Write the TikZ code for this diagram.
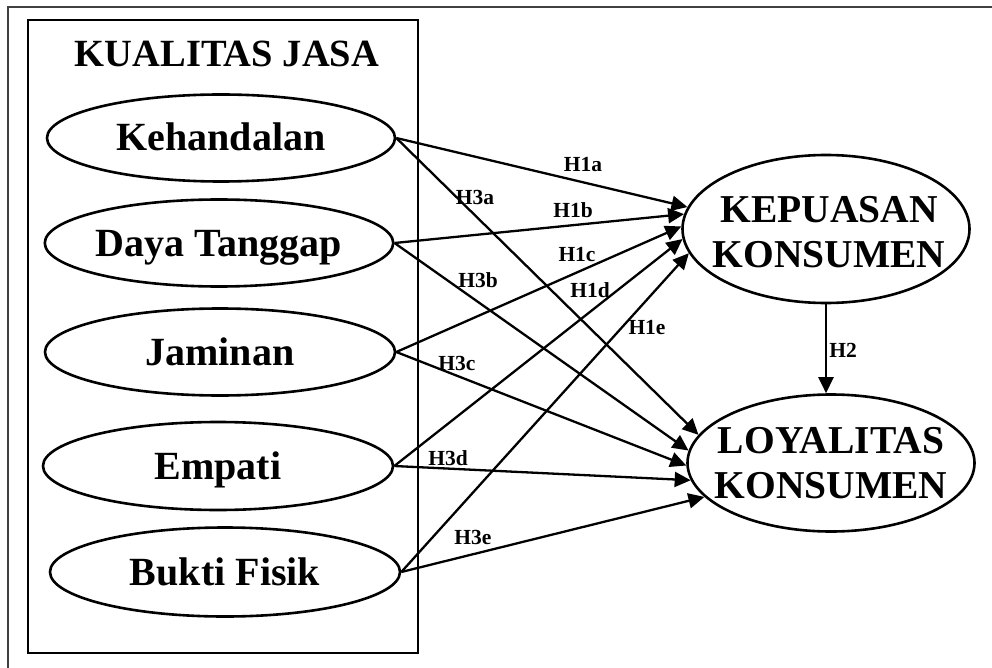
\documentclass[tikz,border=0pt]{standalone}
\usepackage{fontspec}
\setmainfont{Liberation Serif}[BoldFont={Liberation Serif Bold}]
\newfontfamily\tbold{Liberation Serif Bold}
\usetikzlibrary{shapes.geometric,arrows.meta}
\begin{document}
\begin{tikzpicture}[x=1pt,y=-1pt,
  ell/.style={ellipse,draw,line width=2.6pt,inner sep=0pt,font=\tbold\fontsize{40}{45}\selectfont,text height=26pt,text depth=0pt},
  bigtext/.style={align=center,font=\tbold\fontsize{39.5}{45}\selectfont,inner sep=0pt},
  lab/.style={font=\tbold\fontsize{21.5}{24}\selectfont,inner sep=0pt},
  arr/.style={line width=2.3pt,-{Triangle[length=16pt,width=15pt]}}]
\useasboundingbox (0,0) rectangle (992,668);
\draw[line width=1.6pt,color=black!75] (8,668) -- (8,7) -- (992,7);
\node[draw,line width=2.8pt,minimum width=390pt,minimum height=633pt,inner sep=0pt] (box) at (223,336.5) {};
\node[font=\tbold\fontsize{38.5}{40}\selectfont,inner sep=0pt,text height=27pt,text depth=0pt] (title) at (227,53) {KUALITAS JASA};

\node[ell,minimum width=348pt,minimum height=87pt] (keh) at (221,138) {Kehandalan};
\node[ell,minimum width=348pt,minimum height=87pt] (day) at (219,243) {Daya Tanggap};
\node[ell,minimum width=350pt,minimum height=87pt] (jam) at (220,352) {Jaminan};
\node[ell,minimum width=350pt,minimum height=88pt] (emp) at (218,466) {Empati};
\node[ell,minimum width=350pt,minimum height=89pt] (buk) at (225,572) {Bukti Fisik};

\node[ell,minimum width=287pt,minimum height=148pt] (kep) at (826,229) {};
\node[bigtext] (kept) at (829,232) {KEPUASAN\\KONSUMEN};
\node[ell,minimum width=287pt,minimum height=137pt] (loy) at (831,463) {};
\node[bigtext] (loyt) at (831,463) {LOYALITAS\\KONSUMEN};

\draw[arr] (keh.east) -- (kep.171);
\draw[arr] (day.east) -- (kep.174.4);
\draw[arr] (jam.east) -- (kep.179.6);
\draw[arr] (emp.east) -- (kep.184.5);
\draw[arr] (buk.east) -- (kep.190.7);

\draw[arr] (keh.east) -- (loy.168.5);
\draw[arr] (day.east) -- (loy.175.6);
\draw[arr] (jam.east) -- (loy.181.6);
\draw[arr] (emp.east) -- (loy.187.9);
\draw[arr] (buk.east) -- (loy.195.5);

\draw[arr] (kep.south) -- (kep.south |- loy.north);

\node[lab] (l1a) at (583,165) {H1a};
\node[lab] (l1b) at (573,210) {H1b};
\node[lab] (l1c) at (577,255) {H1c};
\node[lab] (l1d) at (590,290) {H1d};
\node[lab] (l1e) at (647,328) {H1e};
\node[lab] (l3a) at (475,197) {H3a};
\node[lab] (l3b) at (478,280) {H3b};
\node[lab] (l3c) at (457,363) {H3c};
\node[lab] (l3d) at (448,458) {H3d};
\node[lab] (l3e) at (473,537) {H3e};
\node[lab] (l2) at (843,350) {H2};
\end{tikzpicture}
\end{document}
